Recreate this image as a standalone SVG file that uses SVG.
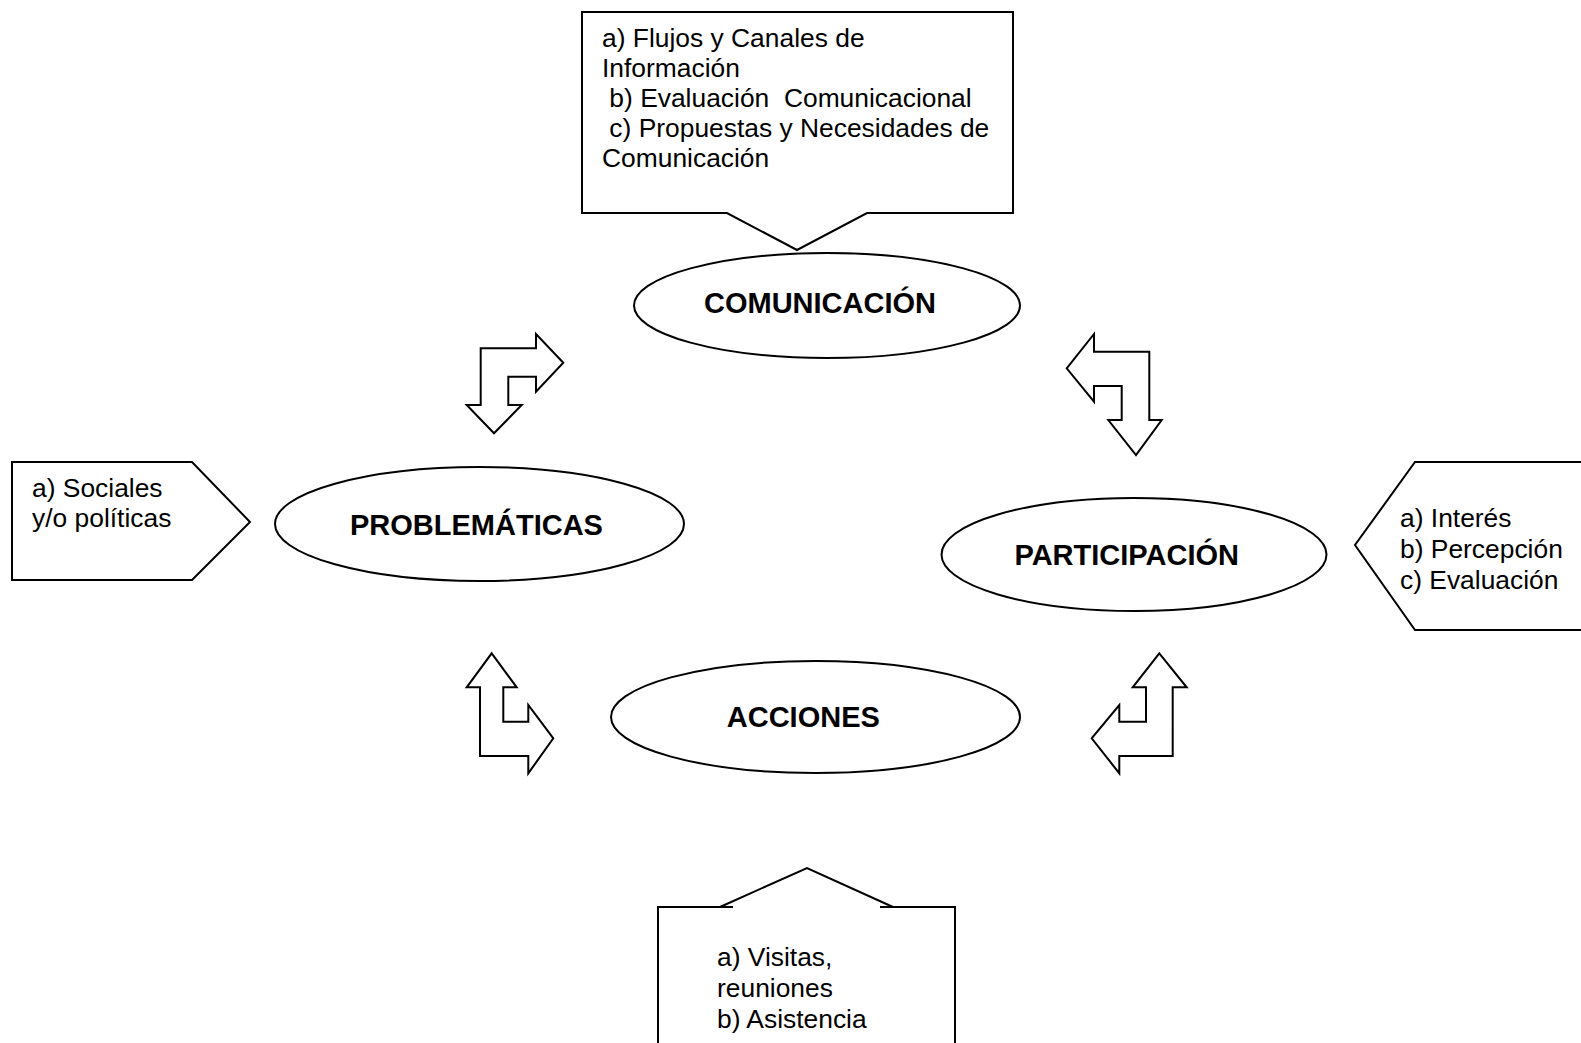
<svg xmlns="http://www.w3.org/2000/svg" width="1581" height="1043" viewBox="0 0 1581 1043">
<style>
.shape{fill:#fff;stroke:#000;stroke-width:2;stroke-linejoin:miter}
.line{fill:none;stroke:#000;stroke-width:2}
.t{font-family:"Liberation Sans",Arial,sans-serif;font-size:26.4px;fill:#000}
.b{font-family:"Liberation Sans",Arial,sans-serif;font-size:29px;font-weight:bold;fill:#000;text-anchor:middle}
</style>
<rect width="1581" height="1043" fill="#fff"/>
<g id="callout-comunicacion">
<polygon class="shape" points="582,12 1013,12 1013,213 867,213 797,250 727,213 582,213"/>
<text class="t" xml:space="preserve"><tspan x="602" y="47">a) Flujos y Canales de</tspan><tspan x="602" y="77">Información</tspan><tspan x="602" y="107"> b) Evaluación  Comunicacional</tspan><tspan x="602" y="137"> c) Propuestas y Necesidades de</tspan><tspan x="602" y="167">Comunicación</tspan></text>
</g>
<g id="callout-problematicas">
<polygon class="shape" points="12,462 192,462 250,522 192,580 12,580"/>
<text class="t"><tspan x="32" y="497">a) Sociales</tspan><tspan x="32" y="527">y/o políticas</tspan></text>
</g>
<g id="callout-participacion">
<polygon class="shape" points="1600,462 1415,462 1355,545 1415,630 1600,630"/>
<text class="t"><tspan x="1400" y="527">a) Interés</tspan><tspan x="1400" y="558">b) Percepción</tspan><tspan x="1400" y="589">c) Evaluación</tspan></text>
</g>
<g id="callout-acciones">
<polygon points="658,1060 658,907 725,907 807,868 889,907 955,907 955,1060" fill="#fff" stroke="none"/>
<path class="line" d="M658,1060 L658,907 L733,907 M720,907 L807,868 L893,907 M880,907 L955,907 L955,1060"/>
<text class="t"><tspan x="717" y="966">a) Visitas,</tspan><tspan x="717" y="997">reuniones</tspan><tspan x="717" y="1028">b) Asistencia</tspan></text>
</g>
<g id="node-comunicacion">
<ellipse class="shape" cx="827" cy="305.5" rx="193" ry="52.5"/>
<text class="b" x="820" y="313">COMUNICACIÓN</text>
</g>
<g id="node-problematicas">
<ellipse class="shape" cx="479.5" cy="524" rx="204.5" ry="57"/>
<text class="b" x="476.5" y="535">PROBLEMÁTICAS</text>
</g>
<g id="node-participacion">
<ellipse class="shape" cx="1134" cy="554.5" rx="192.5" ry="56.5"/>
<text class="b" x="1126.7" y="565">PARTICIPACIÓN</text>
</g>
<g id="node-acciones">
<ellipse class="shape" cx="815.5" cy="717" rx="204.5" ry="56"/>
<text class="b" x="803.3" y="727">ACCIONES</text>
</g>
<g id="connectors">
<polygon class="shape" points="563.3,362.7 536,334 536,348.3 480.7,348.3 480.7,405 466.7,405 494,433.3 521.7,405 508.3,405 508.3,376.7 536,376.7 536,391.7"/>
<polygon class="shape" points="1066.7,368.3 1094,334 1094,351.7 1149.3,351.7 1149.3,420 1161.7,420 1136,455 1108.3,420 1121.7,420 1121.7,386 1094,386 1094,401.7"/>
<polygon class="shape" points="491.7,653.3 516.7,687.3 503.3,687.3 503.3,721.7 528.3,721.7 528.3,705 553.3,738.3 528.3,773.3 528.3,756 480,756 480,687.3 466.7,687.3"/>
<polygon class="shape" points="1159.3,653.3 1186.7,687.3 1172.7,687.3 1172.7,756 1119.3,756 1119.3,773.3 1091.7,738.3 1119.3,705 1119.3,721.7 1146,721.7 1146,687.3 1132.7,687.3"/>
</g>
</svg>
